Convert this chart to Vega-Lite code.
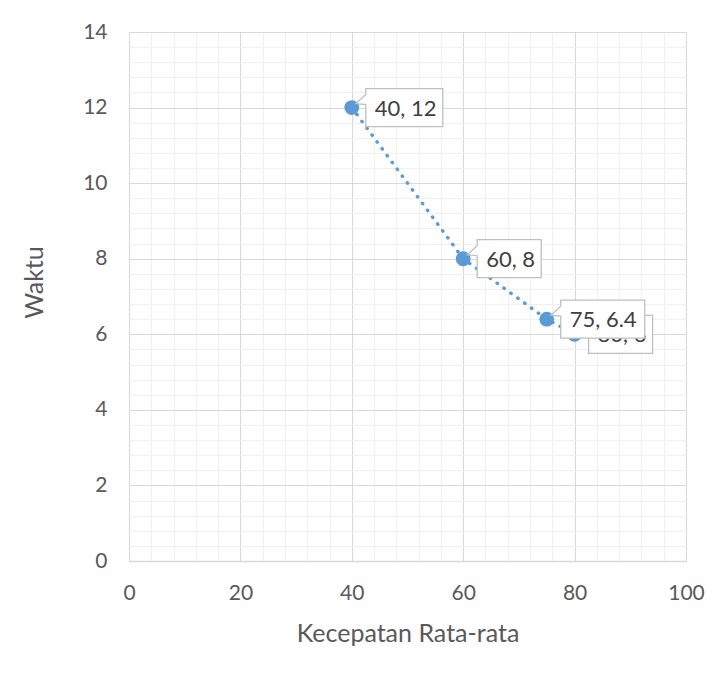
{
  "$schema": "https://vega.github.io/schema/vega-lite/v6.json",
  "width": 557,
  "height": 529,
  "autosize": {"type": "none"},
  "padding": {"left": 129, "top": 32, "right": 41, "bottom": 117},
  "background": "white",
  "config": {
    "view": {"stroke": null},
    "font": "Lato",
    "axis": {"labelFont": "Lato", "titleFont": "Lato", "labelFlush": false, "labelOverlap": false}
  },
  "data": {
    "values": [
      {"kecepatan": 40, "waktu": 12},
      {"kecepatan": 60, "waktu": 8},
      {"kecepatan": 75, "waktu": 6.4},
      {"kecepatan": 80, "waktu": 6}
    ]
  },
  "transform": [
    {"calculate": "datum.kecepatan + ', ' + datum.waktu", "as": "label"}
  ],
  "resolve": {"axis": {"x": "independent", "y": "independent"}},
  "layer": [
    {
      "mark": {"type": "line", "color": "#5B9BD5", "strokeWidth": 3.4, "strokeDash": [0.5, 8], "strokeCap": "round"},
      "encoding": {
        "x": {
          "field": "kecepatan", "type": "quantitative",
          "scale": {"domain": [0, 100], "nice": false},
          "axis": {
            "values": [4, 8, 12, 16, 24, 28, 32, 36, 44, 48, 52, 56, 64, 68, 72, 76, 84, 88, 92, 96],
            "grid": true, "gridColor": "#f0f0f0", "gridWidth": 1,
            "labels": false, "ticks": false, "domain": false, "title": null
          }
        },
        "y": {
          "field": "waktu", "type": "quantitative",
          "scale": {"domain": [0, 14], "nice": false},
          "axis": {
            "values": [0.4, 0.8, 1.2, 1.6, 2.4, 2.8, 3.2, 3.6, 4.4, 4.8, 5.2, 5.6, 6.4, 6.8, 7.2, 7.6, 8.4, 8.8, 9.2, 9.6, 10.4, 10.8, 11.2, 11.6, 12.4, 12.8, 13.2, 13.6],
            "grid": true, "gridColor": "#f0f0f0", "gridWidth": 1,
            "labels": false, "ticks": false, "domain": false, "title": null
          }
        }
      }
    },
    {
      "mark": {"type": "point", "filled": true, "color": "#5B9BD5", "opacity": 1, "size": 220},
      "encoding": {
        "x": {
          "field": "kecepatan", "type": "quantitative",
          "axis": {
            "orient": "bottom",
            "values": [0, 20, 40, 60, 80, 100],
            "grid": true, "gridColor": "#d9d9d9", "gridWidth": 1,
            "domain": true, "domainColor": "#d9d9d9", "domainWidth": 1.3,
            "ticks": false,
            "labelPadding": 21, "labelFontSize": 21, "labelColor": "#595959",
            "title": "Kecepatan Rata-rata",
            "titleFontSize": 25, "titleFontWeight": "normal", "titleColor": "#595959",
            "titleBaseline": "alphabetic", "titleY": 80
          }
        },
        "y": {
          "field": "waktu", "type": "quantitative",
          "axis": {
            "orient": "left",
            "values": [0, 2, 4, 6, 8, 10, 12, 14],
            "grid": true, "gridColor": "#d9d9d9", "gridWidth": 1,
            "domain": false, "ticks": false,
            "labelPadding": 22, "labelFontSize": 21, "labelColor": "#595959",
            "title": "Waktu",
            "titleFontSize": 25, "titleFontWeight": "normal", "titleColor": "#595959",
            "titleAngle": -90, "titleAlign": "center", "titleBaseline": "alphabetic",
            "titleX": -87, "titleY": 250
          }
        }
      }
    },
    {
      "transform": [{"filter": "datum.kecepatan == 80"}],
      "encoding": {
        "x": {"field": "kecepatan", "type": "quantitative", "axis": null},
        "y": {"field": "waktu", "type": "quantitative", "axis": null}
      },
      "layer": [
        {
          "mark": {"type": "point", "filled": true, "fill": "white", "stroke": "#bfbfbf", "strokeWidth": 1.3, "opacity": 1, "fillOpacity": 1, "size": 4},
          "encoding": {
            "shape": {
              "field": "label", "type": "nominal", "legend": null,
              "scale": {
                "domain": ["40, 12", "60, 8", "75, 6.4", "80, 6"],
                "range": [
                  "M14,-19H91V19H14V-3L4,-4L14,-13Z",
                  "M14,-19H78V19H14V-3L4,-4L14,-13Z",
                  "M14,-19H98V19H14V-3L4,-4L14,-13Z",
                  "M14,-19H78V19H14V-3L4,-4L14,-13Z"
                ]
              }
            }
          }
        },
        {
          "mark": {"type": "text", "align": "left", "baseline": "middle", "dx": 23, "dy": 1, "fontSize": 22, "color": "#404040"},
          "encoding": {"text": {"field": "label"}}
        }
      ]
    },
    {
      "transform": [{"filter": "datum.kecepatan != 80"}],
      "encoding": {
        "x": {"field": "kecepatan", "type": "quantitative", "axis": null},
        "y": {"field": "waktu", "type": "quantitative", "axis": null}
      },
      "layer": [
        {
          "mark": {"type": "point", "filled": true, "fill": "white", "stroke": "#bfbfbf", "strokeWidth": 1.3, "opacity": 1, "fillOpacity": 1, "size": 4},
          "encoding": {
            "shape": {
              "field": "label", "type": "nominal", "legend": null,
              "scale": {
                "domain": ["40, 12", "60, 8", "75, 6.4", "80, 6"],
                "range": [
                  "M14,-19H91V19H14V-3L4,-4L14,-13Z",
                  "M14,-19H78V19H14V-3L4,-4L14,-13Z",
                  "M14,-19H98V19H14V-3L4,-4L14,-13Z",
                  "M14,-19H78V19H14V-3L4,-4L14,-13Z"
                ]
              }
            }
          }
        },
        {
          "mark": {"type": "text", "align": "left", "baseline": "middle", "dx": 23, "dy": 1, "fontSize": 22, "color": "#404040"},
          "encoding": {"text": {"field": "label"}}
        }
      ]
    }
  ]
}
